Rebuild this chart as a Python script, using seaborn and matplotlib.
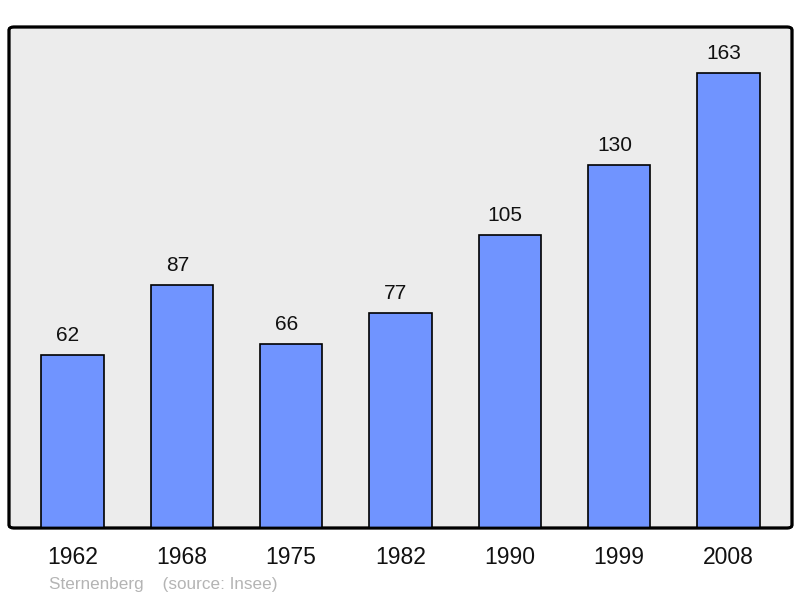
import matplotlib
matplotlib.use("Agg")
import matplotlib.pyplot as plt
import matplotlib.transforms as mtransforms
import seaborn as sns
import pandas as pd
from matplotlib.patches import FancyBboxPatch

years = ["1962", "1968", "1975", "1982", "1990", "1999", "2008"]
population = [62, 87, 66, 77, 105, 130, 163]

sns.set_style("white")
plt.rcParams['font.family'] = ['Liberation Sans', 'DejaVu Sans']

df = pd.DataFrame({"year": years, "pop": population})

fig = plt.figure(figsize=(8, 5.98), dpi=100)
ax = fig.add_axes([9/800, 1 - 528/598, 783/800, 501/598])
ax.set_facecolor("none")

sns.barplot(data=df, x="year", y="pop", color="#7094ff", saturation=1,
            width=0.57, edgecolor="black", linewidth=1.2, ax=ax, zorder=3)

shift = mtransforms.offset_copy(ax.transData, fig=fig, x=-4.5, y=0, units="dots")
for i, v in enumerate(population):
    ax.text(i, v + 6.9, str(v), ha="center", va="center", fontsize=15,
            color="#111111", transform=shift)

ax.set_xlim(-0.58, 6.58)
ax.set_ylim(0, 179.5)
ax.set_xlabel("")
ax.set_ylabel("")
ax.set_yticks([])
ax.tick_params(axis="x", length=0, pad=13, labelsize=16.5, colors="#111111")
for s in ax.spines.values():
    s.set_visible(False)

bg = FancyBboxPatch((0, 0), 1, 1, boxstyle="round,pad=0,rounding_size=0.006",
                    transform=ax.transAxes, facecolor="#ececec", edgecolor="black",
                    linewidth=2, zorder=0, clip_on=False)
ax.add_patch(bg)
border = FancyBboxPatch((0, 0), 1, 1, boxstyle="round,pad=0,rounding_size=0.006",
                        transform=ax.transAxes, facecolor="none", edgecolor="black",
                        linewidth=2, zorder=5, clip_on=False)
ax.add_patch(border)

fig.text(49/800, 1 - 584/598, "Sternenberg    (source: Insee)", fontsize=12.3,
         color="#b4b4b4", ha="left", va="center")

fig.savefig("out.png", dpi=100)
